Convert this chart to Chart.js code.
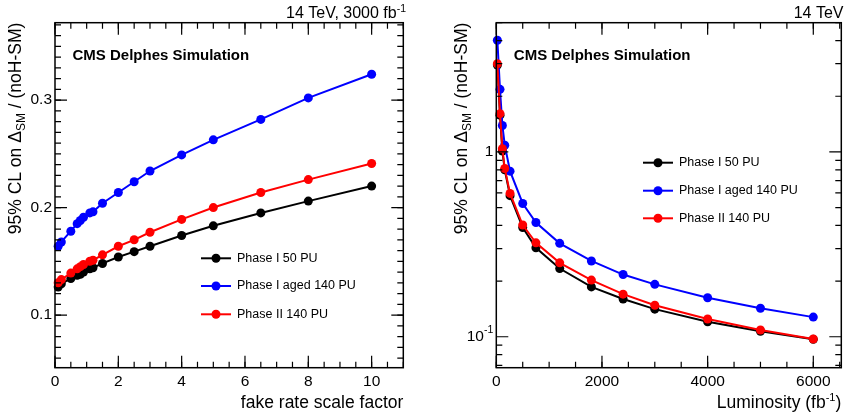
<!DOCTYPE html>
<html>
<head>
<meta charset="utf-8">
<script src="https://cdn.jsdelivr.net/npm/chart.js@4.4.0/dist/chart.umd.min.js"></script>
<style>
  html, body { margin: 0; padding: 0; background: #fff; }
  #wrap { position: relative; width: 846px; height: 419px; }
  .pane { position: absolute; top: 0; width: 423px; height: 419px; }
</style>
</head>
<body>
<div id="wrap">
  <div class="pane" style="left:0"><canvas id="left" width="423" height="419"></canvas></div>
  <div class="pane" style="left:423px"><canvas id="right" width="423" height="419"></canvas></div>
</div>
<script>
// left panel: limit vs fake rate scale factor
const fakeRate   = [0.1, 0.2, 0.5, 0.7, 0.8, 0.9, 1.1, 1.2, 1.5, 2, 2.5, 3, 4, 5, 6.5, 8, 10];
const fakePhase1 = [0.126, 0.129, 0.134, 0.137, 0.138, 0.140, 0.143, 0.144, 0.148, 0.154, 0.159, 0.164, 0.174, 0.183, 0.195, 0.206, 0.220];
const fakeAged   = [0.164, 0.168, 0.178, 0.185, 0.188, 0.191, 0.195, 0.196, 0.204, 0.214, 0.224, 0.234, 0.249, 0.263, 0.282, 0.302, 0.324];
const fakePhase2 = [0.130, 0.133, 0.139, 0.143, 0.145, 0.147, 0.150, 0.151, 0.156, 0.164, 0.170, 0.177, 0.189, 0.200, 0.214, 0.226, 0.241];

// right panel: limit vs luminosity
const lumi       = [20, 70, 115, 160, 260, 500, 750, 1200, 1800, 2400, 3000, 4000, 5000, 6000];
const lumiPhase1 = [2.95, 1.58, 1.01, 0.80, 0.58, 0.39, 0.303, 0.234, 0.186, 0.160, 0.141, 0.1205, 0.107, 0.0968];
const lumiAged   = [4.02, 2.18, 1.39, 1.087, 0.787, 0.526, 0.415, 0.320, 0.257, 0.217, 0.192, 0.1625, 0.1426, 0.1277];
const lumiPhase2 = [3.00, 1.61, 1.04, 0.813, 0.596, 0.402, 0.322, 0.251, 0.2025, 0.170, 0.148, 0.1247, 0.1087, 0.0972];

const seriesNames  = ['Phase I 50 PU', 'Phase I aged 140 PU', 'Phase II 140 PU'];
const seriesColors = ['#000000', '#0000ff', '#ff0000'];
const seriesOrder  = [2, 1, 0];

const fakeXTicks = [0, 2, 4, 6, 8, 10];
const fakeYTicks = [0.1, 0.2, 0.3];
const lumiXTicks = [0, 2000, 4000, 6000];
const lumiYTicks = [0.1, 1];

const FONT = '"Liberation Sans", Arial, Helvetica, sans-serif';

function makeSets(xs, lists) {
  return lists.map((vals, i) => ({
    label: seriesNames[i],
    data: xs.map((x, j) => ({ x, y: vals[j] })),
    borderColor: seriesColors[i],
    backgroundColor: seriesColors[i],
    borderWidth: 2,
    pointRadius: 4.5,
    pointHoverRadius: 4.5,
    pointBorderWidth: 0,
    showLine: true,
    tension: 0,
    clip: false,
    order: seriesOrder[i]
  }));
}

// draw text made of pieces with different sizes / offsets (sub, superscripts)
function rich(ctx, parts, x, y, align) {
  let w = 0;
  parts.forEach(p => {
    ctx.font = (p.bold ? 'bold ' : '') + p.s + 'px ' + FONT;
    p.w = ctx.measureText(p.t).width;
    w += p.w;
  });
  let cx = align === 'right' ? x - w : align === 'center' ? x - w / 2 : x;
  ctx.textAlign = 'left';
  parts.forEach(p => {
    ctx.font = (p.bold ? 'bold ' : '') + p.s + 'px ' + FONT;
    ctx.fillText(p.t, cx, y + (p.dy || 0));
    cx += p.w;
  });
}

function range(a, b, step) {
  const out = [];
  for (let v = a; v <= b + 1e-9; v += step) out.push(+v.toFixed(6));
  return out;
}

function rootFrame(cfg) {
  return {
    id: 'rootFrame',
    afterDatasetsDraw(chart) {
      const ctx = chart.ctx, a = chart.chartArea;
      const xs = chart.scales.x, ys = chart.scales.y;
      ctx.save();
      ctx.strokeStyle = '#000';
      ctx.fillStyle = '#000';
      ctx.lineWidth = 1.5;
      ctx.strokeRect(a.left, a.top, a.right - a.left, a.bottom - a.top);

      ctx.lineWidth = 1.2;
      const tickX = (vals, len) => vals.forEach(v => {
        const px = xs.getPixelForValue(v);
        if (px < a.left - 0.5 || px > a.right + 0.5) return;
        ctx.beginPath();
        ctx.moveTo(px, a.bottom); ctx.lineTo(px, a.bottom - len);
        ctx.moveTo(px, a.top); ctx.lineTo(px, a.top + len);
        ctx.stroke();
      });
      const tickY = (vals, len) => vals.forEach(v => {
        const py = ys.getPixelForValue(v);
        if (py < a.top - 0.5 || py > a.bottom + 0.5) return;
        ctx.beginPath();
        ctx.moveTo(a.left, py); ctx.lineTo(a.left + len, py);
        ctx.moveTo(a.right, py); ctx.lineTo(a.right - len, py);
        ctx.stroke();
      });
      tickX(cfg.xMinor, 6); tickX(cfg.xMajor, 12);
      tickY(cfg.yMinor, 6); tickY(cfg.yMajor, 12);

      // tick labels
      ctx.textBaseline = 'top';
      cfg.xMajor.forEach(v => {
        rich(ctx, [{ t: String(v), s: 15.5 }], xs.getPixelForValue(v), a.bottom + 6, 'center');
      });
      ctx.textBaseline = 'middle';
      cfg.yMajor.forEach((v, i) => {
        rich(ctx, cfg.yLabels[i], a.left - 3, ys.getPixelForValue(v), 'right');
      });

      // axis titles
      ctx.textBaseline = 'alphabetic';
      rich(ctx, cfg.xTitle, a.right, 408, 'right');
      ctx.save();
      ctx.translate(cfg.yTitleX, a.top);
      ctx.rotate(-Math.PI / 2);
      rich(ctx, [
        { t: '95% CL on \u0394', s: 17.5 },
        { t: 'SM', s: 12, dy: 4 },
        { t: ' / (noH-SM)', s: 17.5 }
      ], 0, 0, 'right');
      ctx.restore();

      // header and label
      rich(ctx, cfg.header, cfg.headerX, 18, 'right');
      rich(ctx, [{ t: 'CMS Delphes Simulation', s: 15, bold: true }], a.left + 17.5, 60, 'left');

      // legend
      chart.data.datasets.forEach((ds, i) => {
        const y = cfg.legendY[i];
        const x0 = a.left + cfg.legendX;
        ctx.strokeStyle = ds.borderColor;
        ctx.fillStyle = ds.borderColor;
        ctx.lineWidth = 2;
        ctx.beginPath();
        ctx.moveTo(x0, y); ctx.lineTo(x0 + 30, y);
        ctx.stroke();
        ctx.beginPath();
        ctx.arc(x0 + 15, y, 4.5, 0, Math.PI * 2);
        ctx.fill();
        ctx.fillStyle = '#000';
        ctx.textBaseline = 'middle';
        rich(ctx, [{ t: ds.label, s: 12.5 }], x0 + 36, y, 'left');
        ctx.textBaseline = 'alphabetic';
      });
      ctx.restore();
    }
  };
}

function baseOptions(pad) {
  return {
    responsive: false,
    animation: false,
    layout: { padding: pad },
    plugins: { legend: { display: false }, tooltip: { enabled: false } },
    events: []
  };
}

const leftOpts = baseOptions({ left: 55, right: 19.7, top: 22.7, bottom: 51.3 });
leftOpts.scales = {
  x: { type: 'linear', min: 0, max: 11, display: false },
  y: { type: 'linear', min: 0.051, max: 0.372, display: false }
};
new Chart(document.getElementById('left'), {
  type: 'scatter',
  data: { datasets: makeSets(fakeRate, [fakePhase1, fakeAged, fakePhase2]) },
  options: leftOpts,
  plugins: [rootFrame({
    xMajor: fakeXTicks,
    xMinor: range(0, 11, 0.5),
    yMajor: fakeYTicks,
    yMinor: range(0.06, 0.37, 0.01),
    yLabels: fakeYTicks.map(v => [{ t: String(v), s: 15.5 }]),
    xTitle: [{ t: 'fake rate scale factor', s: 17.5 }],
    yTitleX: 21,
    header: [{ t: '14 TeV, 3000 fb', s: 16 }, { t: '-1', s: 10.5, dy: -6 }],
    headerX: 406,
    legendX: 146,
    legendY: [258.3, 286, 314.3]
  })]
});

const rightOpts = baseOptions({ left: 73.3, right: 4.7, top: 22.7, bottom: 51.3 });
rightOpts.scales = {
  x: { type: 'linear', min: 0, max: 6530, display: false },
  y: { type: 'logarithmic', min: 0.068, max: 5, display: false }
};
new Chart(document.getElementById('right'), {
  type: 'scatter',
  data: { datasets: makeSets(lumi, [lumiPhase1, lumiAged, lumiPhase2]) },
  options: rightOpts,
  plugins: [rootFrame({
    xMajor: lumiXTicks,
    xMinor: range(0, 6500, 500),
    yMajor: lumiYTicks,
    yMinor: [0.07, 0.08, 0.09, 0.2, 0.3, 0.4, 0.5, 0.6, 0.7, 0.8, 0.9, 2, 3, 4, 5],
    yLabels: [
      [{ t: '10', s: 15.5 }, { t: '-1', s: 10.5, dy: -7 }],
      [{ t: '1', s: 15.5 }]
    ],
    xTitle: [{ t: 'Luminosity (fb', s: 17.5 }, { t: '-1', s: 11, dy: -7 }, { t: ')', s: 17.5 }],
    yTitleX: 43.5,
    header: [{ t: '14 TeV', s: 16 }],
    headerX: 420.5,
    legendX: 146.7,
    legendY: [162.7, 190.7, 218.3]
  })]
});
</script>
</body>
</html>
